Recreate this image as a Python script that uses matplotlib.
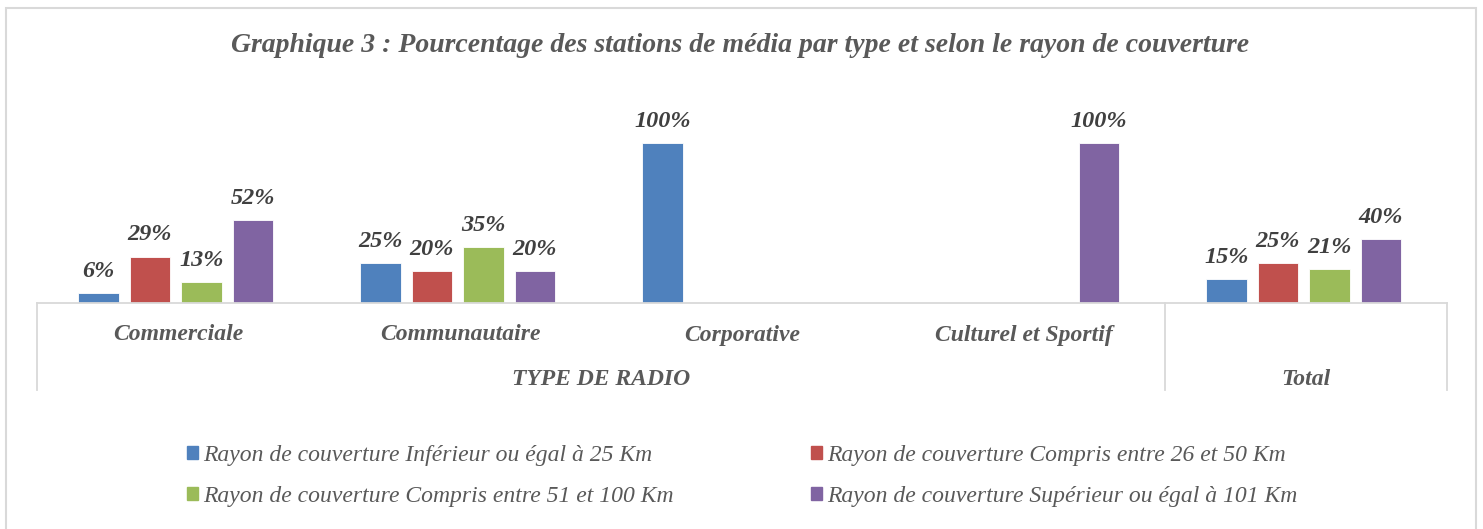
import numpy as np
import matplotlib
matplotlib.use("Agg")
import matplotlib.pyplot as plt
from matplotlib.patches import Rectangle, Patch

plt.rcParams['font.family'] = ['Liberation Serif', 'DejaVu Serif']

title = "Graphique 3 : Pourcentage des stations de média par type et selon le rayon de couverture"
categories = ["Commerciale", "Communautaire", "Corporative", "Culturel et Sportif", ""]
groups = [("TYPE DE RADIO", 0, 3), ("Total", 4, 4)]
series_names = [
    "Rayon de couverture Inférieur ou égal à 25 Km",
    "Rayon de couverture Compris entre 26 et 50 Km",
    "Rayon de couverture Compris entre 51 et 100 Km",
    "Rayon de couverture Supérieur ou égal à 101 Km",
]
inf_25 = [6, 25, 100, np.nan, 15]
entre_26_50 = [29, 20, np.nan, np.nan, 25]
entre_51_100 = [13, 35, np.nan, np.nan, 21]
sup_101 = [52, 20, np.nan, 100, 40]
series = [inf_25, entre_26_50, entre_51_100, sup_101]
colors = ["#4F81BD", "#C0504D", "#9BBB59", "#8064A2"]

W, H = 1483, 529
fig = plt.figure(figsize=(W / 100, H / 100), dpi=100)
ax = fig.add_axes([37 / W, 1 - 303 / H, (1447 - 37) / W, (303 - 143) / H])

x = np.arange(len(categories))
bar_w = 0.142
step = 0.1826
for i, (vals, col) in enumerate(zip(series, colors)):
    pos = x + (i - 1.5) * step - 0.008
    v = np.array(vals, dtype=float)
    ax.bar(pos, v, width=bar_w, color=col, edgecolor='white', linewidth=0.6)
    for px, pv in zip(pos, v):
        if np.isnan(pv):
            continue
        ax.annotate(f"{pv:.0f}%", (px, pv), xytext=(0, 8), textcoords="offset points",
                    ha='center', va='bottom', fontsize=17.5, fontweight='bold',
                    fontstyle='italic', color='#404040', annotation_clip=False)

ax.set_xlim(-0.5, len(categories) - 0.5)
ax.set_ylim(0, 100)
ax.axis('off')

line_kw = dict(color='#D9D9D9', lw=1.3, clip_on=False)
ax.plot([-0.5, len(categories) - 0.5], [0, 0], **line_kw)
bottom = -87 / 160 * 100
for xv in [-0.5, 3.5, 4.5]:
    ax.plot([xv, xv], [0, bottom], **line_kw)

lab_kw = dict(ha='center', va='center', fontsize=17, fontweight='bold',
              fontstyle='italic', color='#595959', clip_on=False)
for xi, name in zip(x, categories):
    ax.text(xi, -32 / 160 * 100, name, **lab_kw)
for name, a, b in groups:
    ax.text((a + b) / 2, -76 / 160 * 100, name, **lab_kw)

fig.text(740 / W, 1 - 46 / H, title, ha='center', va='center', fontsize=20,
         fontweight='bold', fontstyle='italic', color='#595959')

handles = [Patch(color=c) for c in colors]
order = [0, 2, 1, 3]
leg = fig.legend([handles[i] for i in order], [series_names[i] for i in order],
                 ncol=2, loc='center left', bbox_to_anchor=(187 / W, 1 - 476 / H),
                 frameon=False, handlelength=0.45, handleheight=0.45,
                 handletextpad=0.25, columnspacing=5.8, labelspacing=0.85,
                 borderpad=0, borderaxespad=0,
                 prop={'style': 'italic', 'size': 17})
for t in leg.get_texts():
    t.set_color('#595959')

fig.patches.append(Rectangle((6 / W, -0.05), (1476 - 6) / W, 1.05 - 8 / H,
                             transform=fig.transFigure, fill=False,
                             edgecolor='#D9D9D9', lw=1.5))

fig.savefig("out.png", dpi=100, facecolor='white')
